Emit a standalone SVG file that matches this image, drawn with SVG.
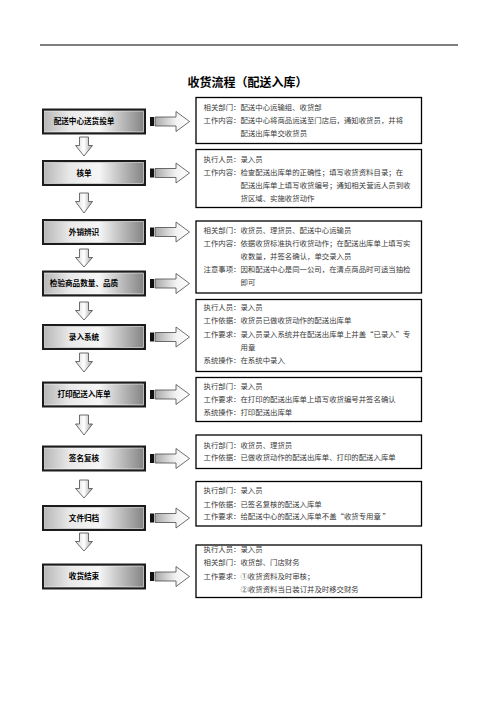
<svg xmlns="http://www.w3.org/2000/svg" width="496" height="702" viewBox="0 0 496 702">
<defs>
<linearGradient id="ng" x1="0" y1="0" x2="1" y2="0">
<stop offset="0" stop-color="#b8b8b8"/>
<stop offset="0.25" stop-color="#e8e8e8"/>
<stop offset="0.55" stop-color="#f6f6f6"/>
<stop offset="1" stop-color="#858585"/>
</linearGradient>
<linearGradient id="ag" x1="0" y1="0" x2="1" y2="0">
<stop offset="0" stop-color="#a8a8a8"/>
<stop offset="0.6" stop-color="#f2f2f2"/>
<stop offset="1" stop-color="#ffffff"/>
</linearGradient>
<linearGradient id="dg" x1="0" y1="0" x2="1" y2="0">
<stop offset="0" stop-color="#d4d4d4"/>
<stop offset="0.5" stop-color="#ffffff"/>
<stop offset="1" stop-color="#a0a0a0"/>
</linearGradient>
</defs>
<style>
.t{font-family:"Noto Sans CJK SC","Liberation Serif",serif;font-size:7.4px;fill:#3a3a3a}
.nl{font-family:"Noto Sans CJK SC","Liberation Sans",sans-serif;font-size:7.6px;font-weight:bold;fill:#000;text-anchor:middle}
.title{font-family:"Noto Sans CJK SC","Liberation Sans",sans-serif;font-size:12px;font-weight:bold;fill:#000;text-anchor:middle}
.box{fill:#fff;stroke:#000;stroke-width:1.3}
.fo{fill:#1c1c1c}
.fi{fill:url(#ng);stroke:#ffffff;stroke-width:0.6}
.ra{fill:url(#ag);stroke:#4a4a4a;stroke-width:0.8}
.bar{fill:#111}
.da{fill:url(#dg);stroke:#4a4a4a;stroke-width:0.8}
</style>
<rect width="496" height="702" fill="#fff"/>
<line x1="40" y1="45" x2="458" y2="45" stroke="#000" stroke-width="1.2"/>
<text class="title" x="247.5" y="87">收货流程（配送入库）</text>

<g id="n1"><rect class="fo" x="42" y="108.5" width="104" height="26"/><rect class="fi" x="44.5" y="111" width="99" height="21"/><text class="nl" x="84" y="124.2">配送中心送货投单</text></g>
<g id="n2"><rect class="fo" x="42" y="160" width="104" height="26"/><rect class="fi" x="44.5" y="162.5" width="99" height="21"/><text class="nl" x="84" y="175.7">核单</text></g>
<g id="n3"><rect class="fo" x="42" y="219" width="104" height="26"/><rect class="fi" x="44.5" y="221.5" width="99" height="21"/><text class="nl" x="84" y="234.7">外销辨识</text></g>
<g id="n4"><rect class="fo" x="42" y="270.5" width="104" height="26"/><rect class="fi" x="44.5" y="273" width="99" height="21"/><text class="nl" x="84" y="286.2">检验商品数量、品质</text></g>
<g id="n5"><rect class="fo" x="42" y="324" width="104" height="26"/><rect class="fi" x="44.5" y="326.5" width="99" height="21"/><text class="nl" x="84" y="339.7">录入系统</text></g>
<g id="n6"><rect class="fo" x="42" y="381.5" width="104" height="26"/><rect class="fi" x="44.5" y="384" width="99" height="21"/><text class="nl" x="84" y="397.2">打印配送入库单</text></g>
<g id="n7"><rect class="fo" x="42" y="445.5" width="104" height="26"/><rect class="fi" x="44.5" y="448" width="99" height="21"/><text class="nl" x="84" y="461.2">签名复核</text></g>
<g id="n8"><rect class="fo" x="42" y="505" width="104" height="26"/><rect class="fi" x="44.5" y="507.5" width="99" height="21"/><text class="nl" x="84" y="520.7">文件归档</text></g>
<g id="n9"><rect class="fo" x="42" y="563.5" width="104" height="26"/><rect class="fi" x="44.5" y="566" width="99" height="21"/><text class="nl" x="84" y="579.2">收货结束</text></g>

<g id="b1"><rect class="box" x="196" y="97.5" width="225.5" height="46"/>
<text class="t" x="203.5" y="110">相关部门：配送中心运输组、收货部</text>
<text class="t" x="203.5" y="123.4">工作内容：配送中心将商品运送至门店后，通知收货员，并将</text>
<text class="t" x="240.5" y="136">配送出库单交收货员</text></g>
<g id="b2"><rect class="box" x="196" y="149.5" width="225.5" height="58"/>
<text class="t" x="203.5" y="161.7">执行人员：录入员</text>
<text class="t" x="203.5" y="174.7">工作内容：检查配送出库单的正确性；填写收货资料目录；在</text>
<text class="t" x="240.5" y="187.9">配送出库单上填写收货编号；通知相关营运人员到收</text>
<text class="t" x="240.5" y="201.1">货区域、实施收货动作</text></g>
<g id="b3"><rect class="box" x="196" y="221" width="225.5" height="72"/>
<text class="t" x="203.5" y="232.7">相关部门：收货员、理货员、配送中心运输员</text>
<text class="t" x="203.5" y="246">工作内容：依据收货标准执行收货动作；在配送出库单上填写实</text>
<text class="t" x="240.5" y="259.4">收数量，并签名确认，单交录入员</text>
<text class="t" x="203.5" y="272">注意事项：因和配送中心是同一公司，在清点商品时可适当抽检</text>
<text class="t" x="240.5" y="285">即可</text></g>
<g id="b4"><rect class="box" x="196" y="299.5" width="225.5" height="72"/>
<text class="t" x="203.5" y="310">执行人员：录入员</text>
<text class="t" x="203.5" y="323.4">工作依据：收货员已做收货动作的配送出库单</text>
<text class="t" x="203.5" y="336.7">工作要求：录入员录入系统并在配送出库单上并盖“已录入”专</text>
<text class="t" x="240.5" y="350">用章</text>
<text class="t" x="203.5" y="363.4">系统操作：在系统中录入</text></g>
<g id="b5"><rect class="box" x="196" y="377.5" width="225.5" height="44"/>
<text class="t" x="203.5" y="388.7">执行部门：录入员</text>
<text class="t" x="203.5" y="402">工作要求：在打印的配送出库单上填写收货编号并签名确认</text>
<text class="t" x="203.5" y="415">系统操作：打印配送出库单</text></g>
<g id="b6"><rect class="box" x="196" y="435" width="225.5" height="33.5"/>
<text class="t" x="203.5" y="447.7">执行部门：收货员、理货员</text>
<text class="t" x="203.5" y="460">工作依据：已做收货动作的配送出库单、打印的配送入库单</text></g>
<g id="b7"><rect class="box" x="196" y="481.5" width="225.5" height="44.5"/>
<text class="t" x="203.5" y="493.4">执行部门：录入员</text>
<text class="t" x="203.5" y="506.7">工作依据：已签名复核的配送入库单</text>
<text class="t" x="203.5" y="519.4">工作要求：给配送中心的配送入库单不盖“收货专用章 ”</text></g>
<g id="b8"><rect class="box" x="196" y="545" width="225.5" height="52.5"/>
<text class="t" x="203.5" y="552">执行人员：录入员</text>
<text class="t" x="203.5" y="565.4">相关部门：收货部、门店财务</text>
<text class="t" x="203.5" y="578.7">工作要求：①收货资料及时审核；</text>
<text class="t" x="240.5" y="592">②收货资料当日装订并及时移交财务</text></g>

<g id="connectors">
<path class="da" d="M79.5,137 H88.5 V145.5 H92.5 L84,156 L75.5,145.5 H79.5 Z"/>
<path class="da" d="M79.5,193 H88.5 V201.5 H92.5 L84,213 L75.5,201.5 H79.5 Z"/>
<path class="da" d="M79.5,249 H88.5 V257.5 H92.5 L84,267 L75.5,257.5 H79.5 Z"/>
<path class="da" d="M79.5,302 H88.5 V310.5 H92.5 L84,320 L75.5,310.5 H79.5 Z"/>
<path class="da" d="M79.5,353 H88.5 V361.5 H92.5 L84,372 L75.5,361.5 H79.5 Z"/>
<path class="da" d="M79.5,415 H88.5 V424 H92.5 L84,435 L75.5,424 H79.5 Z"/>
<path class="da" d="M79.5,480 H88.5 V488.5 H92.5 L84,498 L75.5,488.5 H79.5 Z"/>
<path class="da" d="M79.5,533 H88.5 V541.5 H92.5 L84,551 L75.5,541.5 H79.5 Z"/>

<rect class="bar" x="150" y="117" width="4" height="9"/><path class="ra" d="M155,117 H176 V111.5 L189.5,121.5 L176,131.5 V126 H155 Z"/>
<rect class="bar" x="150" y="168.5" width="4" height="9"/><path class="ra" d="M155,168.5 H176 V163 L189.5,173 L176,183 V177.5 H155 Z"/>
<rect class="bar" x="150" y="227.5" width="4" height="9"/><path class="ra" d="M155,227.5 H176 V222 L189.5,232 L176,242 V236.5 H155 Z"/>
<rect class="bar" x="150" y="279" width="4" height="9"/><path class="ra" d="M155,279 H176 V273.5 L189.5,283.5 L176,293.5 V288 H155 Z"/>
<rect class="bar" x="150" y="332.5" width="4" height="9"/><path class="ra" d="M155,332.5 H176 V327 L189.5,337 L176,347 V341.5 H155 Z"/>
<rect class="bar" x="150" y="390" width="4" height="9"/><path class="ra" d="M155,390 H176 V384.5 L189.5,394.5 L176,404.5 V399 H155 Z"/>
<rect class="bar" x="150" y="454" width="4" height="9"/><path class="ra" d="M155,454 H176 V448.5 L189.5,458.5 L176,468.5 V463 H155 Z"/>
<rect class="bar" x="150" y="513.5" width="4" height="9"/><path class="ra" d="M155,513.5 H176 V508 L189.5,518 L176,528 V522.5 H155 Z"/>
<rect class="bar" x="150" y="572" width="4" height="9"/><path class="ra" d="M155,572 H176 V566.5 L189.5,576.5 L176,586.5 V581 H155 Z"/>
</g>
</svg>
